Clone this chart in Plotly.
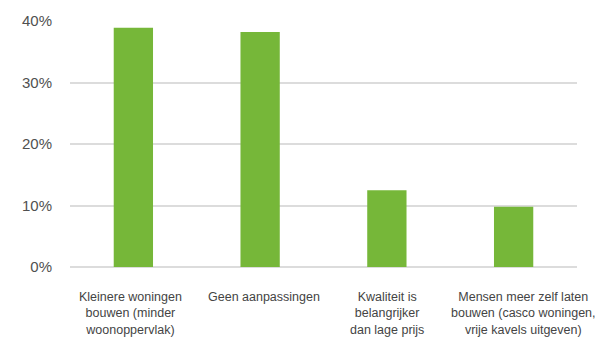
import plotly.graph_objects as go

categories = [
    "Kleinere woningen<br>bouwen (minder<br>woonoppervlak)",
    "Geen aanpassingen",
    "Kwaliteit is<br>belangrijker<br>dan lage prijs",
    "Mensen meer zelf laten<br>bouwen (casco woningen,<br>vrije kavels uitgeven)",
]
values = [38.9, 38.2, 12.5, 9.8]
y_ticks = [0, 10, 20, 30, 40]
y_tick_labels = ["0%", "10%", "20%", "30%", "40%"]

# small horizontal offsets (px) of the category labels, as in the source image
label_shift = [-3, 4, 0, 10]

FONT = "Liberation Sans"

fig = go.Figure()
fig.add_trace(go.Bar(
    x=list(range(len(categories))),
    y=values,
    marker=dict(color="#76B739", line=dict(width=0)),
    hoverinfo="skip",
))

for i, (txt, sh) in enumerate(zip(categories, label_shift)):
    fig.add_annotation(
        x=i, xref="x", y=0, yref="paper",
        text=txt, showarrow=False,
        xanchor="center", yanchor="top", align="center",
        xshift=sh, yshift=-21,
        font=dict(family=FONT, size=12.5, color="#444444"),
    )

# the page body adds an 8px offset; margins compensate for it
fig.update_layout(
    width=605, height=356,
    margin=dict(l=62, r=36, t=13, b=97, autoexpand=False),
    paper_bgcolor="white", plot_bgcolor="white",
    bargap=0.69,
    showlegend=False,
    xaxis=dict(
        range=[-0.5, 3.5], showticklabels=False, showgrid=False,
        zeroline=False, showline=False, fixedrange=True, automargin=False,
    ),
    yaxis=dict(
        range=[0, 40], tickvals=y_ticks, ticktext=y_tick_labels,
        showgrid=True, gridcolor="#DCDCDC", gridwidth=1.5,
        zeroline=True, zerolinecolor="#DCDCDC", zerolinewidth=1.5,
        showline=False, ticks="", ticklabelstandoff=17, automargin=False,
        tickfont=dict(family=FONT, size=15, color="#505050"),
        fixedrange=True,
    ),
)

fig.write_html("out.html")
